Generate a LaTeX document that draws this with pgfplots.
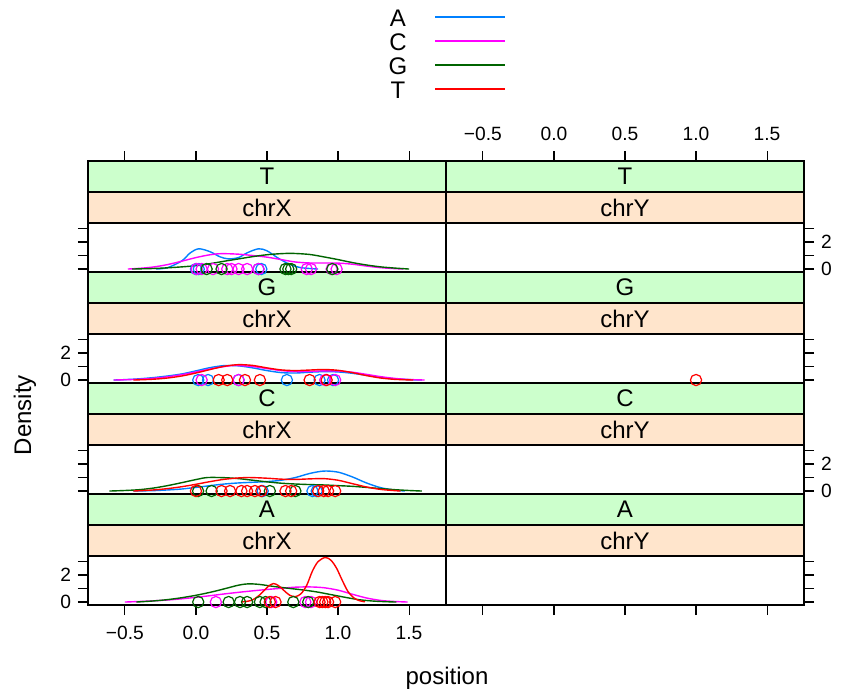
\documentclass[border=0pt]{standalone}
\usepackage{pgfplots}
\pgfplotsset{compat=1.18}
\usepackage{fontspec}
\setmainfont{Liberation Sans}
\definecolor{cA}{HTML}{0080FF}
\definecolor{cC}{HTML}{FF00FF}
\definecolor{cG}{HTML}{006400}
\definecolor{cT}{HTML}{FF0000}
\definecolor{stripG}{HTML}{CCFFCC}
\definecolor{stripP}{HTML}{FFE5CC}
\pgfplotsset{
  panel/.style={width=179pt, height=24.5pt, scale only axis, anchor=south west,
    xmin=-0.76, xmax=1.76, ymin=-0.22, ymax=3.41, xtick=\empty, ytick={0,1,2,3},
    tick align=outside, major tick length=5pt, tick style={black, line width=0.55pt},
    axis line style={line width=0.6pt},
    yticklabel style={font=\fontsize{9.6}{11}\selectfont}},
  colax/.style={width=179pt, height=222pt, scale only axis, anchor=south west,
    xmin=-0.76, xmax=1.76, ymin=0, ymax=1, ytick=\empty,
    xtick={-0.5,0,0.5,1,1.5}, xticklabels={−0.5,0.0,0.5,1.0,1.5},
    tick align=outside, major tick length=5pt, tick style={black, line width=0.55pt},
    axis line style={line width=0.6pt}},
  den/.style={no marks, line width=0.7pt, smooth},
  pts/.style={only marks, mark=o, mark size=2.8pt, mark options={line width=0.6pt}},
}
\newcommand{\strips}[3]{% #1 = x left px, #2 = bottom px, #3 = letter
  \filldraw[fill=stripG, draw=black, line width=0.6pt] (#1,#2-111) rectangle (#1+358,#2-80);
  \filldraw[fill=stripP, draw=black, line width=0.6pt] (#1,#2-80) rectangle (#1+358,#2-49);
  \node[font=\fontsize{12}{14}\selectfont] at (#1+179,#2-95.5) {#3};
}
\begin{document}
\begin{tikzpicture}[x=0.5pt,y=-0.5pt]
\path[use as bounding box] (0,0) rectangle (842,691);
% column axes (outer ticks)
\begin{axis}[colax, at={(44pt,-302.5pt)}, xticklabel pos=left, xtick pos=both,
  xticklabel style={font=\fontsize{9.6}{11}\selectfont, yshift=-2pt}]
\end{axis}
\begin{axis}[colax, at={(223pt,-302.5pt)}, xticklabel pos=right, xtick pos=both,
  xticklabel style={font=\fontsize{9.6}{11}\selectfont, yshift=1.5pt}]
\end{axis}
% strips
\foreach \b/\l in {605/A,494/C,383/G,272/T}{
  \strips{88}{\b}{\l}
  \strips{446}{\b}{\l}
}
\foreach \b in {605,494,383,272}{
  \node[font=\fontsize{12}{14}\selectfont] at (267,\b-64.5) {chrX};
  \node[font=\fontsize{12}{14}\selectfont] at (625,\b-64.5) {chrY};
}
% ---------------- A chrX
\begin{axis}[panel, at={(44pt,-302.5pt)}, ytick pos=left, yticklabels={0,,2,}]
\addplot[den, cC] coordinates {(-0.5,0) (-0.4,0.04) (-0.3,0.09) (-0.2,0.15) (-0.1,0.24) (0,0.35) (0.1,0.47) (0.2,0.6) (0.3,0.72) (0.4,0.83) (0.5,0.93) (0.6,1.02) (0.7,1.1) (0.8,1.12) (0.9,1.06) (1.0,0.88) (1.1,0.58) (1.2,0.3) (1.3,0.12) (1.4,0.04) (1.49,0)};
\addplot[pts, cC] coordinates {(0.14,0) (0.53,0) (0.77,0) (0.81,0)};
\addplot[den, cG] coordinates {(-0.42,0) (-0.3,0.08) (-0.2,0.18) (-0.1,0.32) (0,0.5) (0.1,0.72) (0.2,0.98) (0.3,1.25) (0.37,1.35) (0.45,1.3) (0.55,1.15) (0.65,1.02) (0.75,0.9) (0.85,0.75) (0.95,0.55) (1.05,0.35) (1.15,0.17) (1.25,0.07) (1.35,0.02) (1.41,0)};
\addplot[pts, cG] coordinates {(0.016,0) (0.23,0) (0.31,0) (0.36,0) (0.45,0) (0.49,0) (0.685,0) (0.79,0)};
\addplot[den, cT] coordinates {(0.32,0.01) (0.36,0.05) (0.40,0.17) (0.44,0.45) (0.48,0.85) (0.51,1.17) (0.545,1.37) (0.58,1.22) (0.62,0.85) (0.66,0.5) (0.70,0.4) (0.74,0.62) (0.78,1.25) (0.82,2.3) (0.86,3.0) (0.91,3.3) (0.95,3.1) (0.99,2.5) (1.03,1.6) (1.07,0.78) (1.11,0.32) (1.15,0.1) (1.19,0.02)};
\addplot[pts, cT] coordinates {(0.52,0) (0.56,0) (0.87,0) (0.89,0) (0.91,0) (0.93,0) (0.98,0)};
\end{axis}
% ---------------- C chrX
\begin{axis}[panel, at={(44pt,-247pt)}, ytick pos=left, yticklabels={,,,}]
\addplot[den, cA] coordinates {(-0.44,0) (-0.3,0.03) (-0.2,0.08) (-0.1,0.15) (0,0.27) (0.1,0.4) (0.2,0.52) (0.3,0.6) (0.4,0.65) (0.5,0.7) (0.6,0.8) (0.7,1.0) (0.8,1.3) (0.9,1.48) (1.0,1.4) (1.1,1.05) (1.2,0.6) (1.3,0.25) (1.4,0.07) (1.47,0)};
\addplot[pts, cA] coordinates {(0.47,0) (0.82,0) (0.85,0)};
\addplot[den, cG] coordinates {(-0.61,0) (-0.5,0.04) (-0.4,0.1) (-0.3,0.22) (-0.2,0.4) (-0.1,0.62) (0,0.85) (0.08,1.0) (0.2,0.99) (0.3,0.92) (0.4,0.8) (0.5,0.68) (0.6,0.58) (0.7,0.52) (0.8,0.48) (0.9,0.45) (1.0,0.4) (1.1,0.35) (1.2,0.27) (1.3,0.18) (1.4,0.1) (1.5,0.04) (1.59,0)};
\addplot[pts, cG] coordinates {(0.015,0) (0.11,0) (0.52,0) (0.70,0)};
\addplot[den, cT] coordinates {(-0.44,0) (-0.3,0.08) (-0.2,0.18) (-0.1,0.32) (0,0.5) (0.1,0.7) (0.2,0.87) (0.3,0.97) (0.38,1.0) (0.5,0.95) (0.6,0.88) (0.7,0.86) (0.8,0.9) (0.9,0.92) (1.0,0.8) (1.1,0.55) (1.2,0.3) (1.3,0.12) (1.4,0.03) (1.44,0)};
\addplot[pts, cT] coordinates {(0.0,0) (0.18,0) (0.24,0) (0.32,0) (0.36,0) (0.415,0) (0.46,0) (0.63,0) (0.67,0) (0.86,0) (0.90,0) (0.93,0) (0.98,0)};
\end{axis}
% ---------------- G chrX
\begin{axis}[panel, at={(44pt,-191.5pt)}, ytick pos=left, yticklabels={0,,2,}]
\addplot[den, cA] coordinates {(-0.58,0) (-0.5,0.03) (-0.4,0.09) (-0.3,0.18) (-0.2,0.3) (-0.1,0.45) (0,0.68) (0.1,0.92) (0.2,1.07) (0.3,1.05) (0.4,0.9) (0.5,0.7) (0.6,0.55) (0.7,0.52) (0.8,0.58) (0.9,0.62) (1.0,0.6) (1.1,0.5) (1.2,0.35) (1.3,0.2) (1.4,0.09) (1.5,0.03) (1.59,0)};
\addplot[pts, cA] coordinates {(0.016,0) (0.085,0) (0.30,0) (0.64,0) (0.87,0) (0.965,0)};
\addplot[den, cC] coordinates {(-0.58,0) (-0.5,0.02) (-0.4,0.06) (-0.3,0.13) (-0.2,0.24) (-0.1,0.4) (0,0.6) (0.1,0.82) (0.2,1.0) (0.28,1.08) (0.4,1.0) (0.5,0.85) (0.6,0.7) (0.7,0.63) (0.8,0.64) (0.9,0.68) (1.0,0.67) (1.1,0.58) (1.2,0.42) (1.3,0.25) (1.4,0.12) (1.5,0.04) (1.61,0)};
\addplot[pts, cC] coordinates {(0.04,0) (0.30,0) (0.91,0) (0.98,0)};
\addplot[den, cT] coordinates {(-0.44,0) (-0.3,0.06) (-0.2,0.15) (-0.1,0.3) (0,0.52) (0.1,0.78) (0.2,1.02) (0.3,1.14) (0.4,1.08) (0.5,0.9) (0.6,0.75) (0.7,0.7) (0.8,0.74) (0.9,0.78) (1.0,0.72) (1.1,0.55) (1.2,0.33) (1.3,0.15) (1.4,0.05) (1.53,0)};
\addplot[pts, cT] coordinates {(0.16,0) (0.22,0) (0.345,0) (0.45,0) (0.80,0) (0.92,0)};
\end{axis}
% ---------------- T chrX
\begin{axis}[panel, at={(44pt,-136pt)}, ytick pos=left, yticklabels={,,,}]
\addplot[den, cA] coordinates {(-0.28,0) (-0.2,0.1) (-0.1,0.6) (-0.04,1.2) (0.02,1.5) (0.1,1.28) (0.17,0.9) (0.23,0.75) (0.3,0.85) (0.36,1.2) (0.44,1.5) (0.5,1.35) (0.58,0.8) (0.66,0.35) (0.74,0.1) (0.86,0)};
\addplot[pts, cA] coordinates {(0.0,0) (0.02,0) (0.44,0) (0.46,0)};
\addplot[den, cC] coordinates {(-0.48,0) (-0.4,0.05) (-0.3,0.15) (-0.2,0.33) (-0.1,0.58) (0,0.85) (0.1,1.06) (0.18,1.14) (0.3,1.1) (0.4,1.0) (0.5,0.88) (0.6,0.7) (0.7,0.52) (0.8,0.45) (0.9,0.45) (1.0,0.44) (1.1,0.36) (1.2,0.22) (1.3,0.1) (1.4,0.03) (1.46,0)};
\addplot[pts, cC] coordinates {(0.005,0) (0.04,0) (0.12,0) (0.22,0) (0.25,0) (0.30,0) (0.36,0) (0.44,0) (0.78,0) (0.81,0) (0.955,0) (0.99,0)};
\addplot[den, cG] coordinates {(-0.45,0) (-0.3,0.04) (-0.2,0.09) (-0.1,0.16) (0,0.25) (0.1,0.4) (0.2,0.58) (0.3,0.75) (0.4,0.92) (0.5,1.06) (0.6,1.14) (0.68,1.16) (0.8,1.08) (0.9,0.9) (1.0,0.7) (1.1,0.48) (1.2,0.3) (1.3,0.16) (1.4,0.07) (1.5,0)};
\addplot[pts, cG] coordinates {(0.075,0) (0.18,0) (0.63,0) (0.65,0) (0.67,0) (0.96,0)};
\end{axis}
% ---------------- right column (chrY)
\begin{axis}[panel, at={(223pt,-302.5pt)}, yticklabel pos=right, ytick pos=right, yticklabels={,,,}]
\addplot[draw=none] coordinates {(0,-1)};
\end{axis}
\begin{axis}[panel, at={(223pt,-247pt)}, yticklabel pos=right, ytick pos=right, yticklabels={0,,2,}]
\addplot[draw=none] coordinates {(0,-1)};
\end{axis}
\begin{axis}[panel, at={(223pt,-191.5pt)}, yticklabel pos=right, ytick pos=right, yticklabels={,,,}]
\addplot[pts, cT] coordinates {(1.0,0)};
\end{axis}
\begin{axis}[panel, at={(223pt,-136pt)}, yticklabel pos=right, ytick pos=right, yticklabels={0,,2,}]
\addplot[draw=none] coordinates {(0,-1)};
\end{axis}
% labels
\node[font=\fontsize{12}{14}\selectfont] at (447,678) {position};
\node[font=\fontsize{12}{14}\selectfont, rotate=90] at (25,415) {Density};
% legend
\foreach \t/\c/\yy in {A/cA/17,C/cC/41,G/cG/65,T/cT/89}{
  \node[font=\fontsize{12}{14}\selectfont] at (398,\yy+1) {\t};
  \draw[\c, line width=0.7pt] (435,\yy) -- (505,\yy);
}
\end{tikzpicture}
\end{document}
